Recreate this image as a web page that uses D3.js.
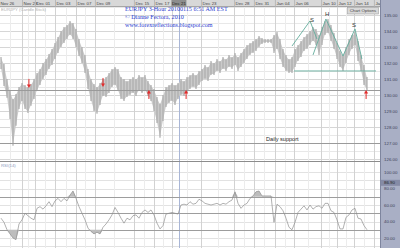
<!DOCTYPE html>
<html>
<head>
<meta charset="utf-8">
<script src="https://cdn.jsdelivr.net/npm/d3@7"></script>
<style>
  body { margin: 0; background: #fff; }
  svg { display: block; font-family: "Liberation Sans", Arial, sans-serif; }
</style>
</head>
<body>
<div id="chart"></div>
<script>
// EUR/JPY 3-hour (one entry per ~2 bars)
const highs = [132.34,131.91,130.97,130.22,129.72,130.03,130.47,130.72,130.59,130.47,
  130.66,130.97,131.34,131.59,131.97,132.22,132.53,132.84,133.22,133.59,
  133.97,134.22,134.34,134.59,134.47,134.09,133.47,132.97,132.47,131.59,
  130.97,130.66,130.47,130.72,130.97,131.09,131.34,131.59,131.72,131.59,
  131.09,130.97,130.84,130.97,131.09,130.97,131.22,131.09,131.22,130.84,
  130.59,130.34,129.84,129.41,129.97,130.47,130.59,130.72,130.59,130.72,
  130.97,130.84,131.09,131.22,131.34,131.22,131.47,131.59,131.84,131.72,
  132.09,131.97,132.22,132.09,132.34,132.22,132.47,132.34,132.59,132.34,
  132.59,132.84,133.09,133.22,133.34,133.47,133.66,133.53,133.47,133.47,
  133.47,133.72,133.91,133.47,132.84,132.47,132.22,132.34,132.84,133.09,
  133.34,133.59,133.78,133.97,134.22,134.09,133.72,134.22,134.59,134.72,
  134.34,133.84,133.22,132.72,132.47,132.97,133.47,133.72,133.91,133.34,
  132.47,131.84,131.09];
const lows = [131.72,130.66,129.91,128.59,126.91,128.16,129.22,129.72,129.22,128.97,
  129.41,129.84,130.34,130.72,131.09,131.34,131.72,131.97,132.34,132.72,
  133.09,133.34,133.59,133.84,133.59,133.09,132.53,132.09,131.47,130.47,
  129.72,129.09,128.91,129.47,130.03,129.97,130.22,130.59,130.72,130.34,
  129.84,129.72,129.97,130.09,130.22,130.03,130.34,130.22,130.34,130.03,
  129.72,129.09,128.34,127.41,128.47,129.34,129.59,129.72,129.47,129.84,
  130.09,130.03,130.22,130.47,130.59,130.47,130.72,130.97,131.09,130.97,
  131.34,131.34,131.59,131.47,131.72,131.59,131.84,131.72,131.97,131.59,
  131.84,132.09,132.34,132.59,132.72,132.84,133.09,133.28,133.34,133.34,
  133.34,132.72,132.97,132.34,131.84,131.59,131.47,131.47,131.84,132.22,
  132.47,132.84,132.97,133.22,133.47,133.22,132.59,133.22,133.84,133.97,
  133.47,132.97,132.34,131.84,131.59,132.09,132.59,132.97,133.22,132.22,
  131.59,130.72,130.34];
const rsi = [44,39,30,25,20,18,37,42,50,47,44,42,56,58,55,59,64,58,65,68,
  64,68,65,72,77,68,58,50,42,32,28,25,27,25,33,37,42,48,57,51,
  44,38,44,42,47,48,44,51,54,51,54,48,38,31,35,49,50,51,50,49,
  60,61,60,64,61,62,67,65,62,61,60,61,62,60,62,61,64,66,76,62,
  56,60,62,68,71,76,77,71,71,71,71,39,61,58,53,44,33,30,39,51,
  55,59,54,60,55,58,59,56,62,62,53,51,42,31,31,45,48,54,56,44,
  43,35,30];

const dateLabels = ["Nov 26","Nov 28","Dec 01","Dec 03","Dec 07","Dec 09","Dec 15","Dec 17",
  "Dec 21","Dec 23","Dec 28","Dec 31","Jan 04","Jan 06","Jan 10","Jan 12","Jan 14","Jan 18"];
const dateIdx = [-0.7,7,11.3,18,25,31.3,44.3,51,57,66.7,77.7,84.3,91.3,97.7,106.7,112,117.7,124.3];
const priceTicks = [126,127,128,129,130,131,132,133,134,135];
const rsiTicks = [20,40,60,80,100];
const rsiLevels = [30,50,70];

// drawn annotations
const supportLines = [130.34, 127.0];
const neckline = { from: 97.7, to: 125, price: 131.53 };
const hsLegs = [
  [[97, 133.09], [103, 134.66], [105.3, 133.53]],
  [[104, 132.53], [108.3, 134.78], [114, 132.47], [118, 134.16], [120.3, 132.28]]
];
const hsLabels = [["S", 103.7, 134.6], ["H", 108.7, 134.95], ["S", 117.7, 134.25]];
const arrows = [[9.3, 130.47, "down"], [34, 130.53, "down"], [49.3, 130.34, "up"],
  [61.7, 130.34, "up"], [121.7, 130.34, "up"]];
const cursorLabel = "Dec 21", cursorIdx = 59.3, cursorRsi = 86.9;

const W = 400, H = 248, plotRight = 380;

const svg = d3.select("#chart").append("svg")
  .attr("width", W).attr("height", H);

const x = d3.scaleLinear().domain([0, 126]).range([1, 379]);
const yP = d3.scaleLinear().domain([125.9, 135.53]).range([161, 7]);
const yR = d3.scaleLinear().domain([20, 100]).range([238, 172]);

svg.append("defs").append("clipPath").attr("id", "pclip")
  .append("rect").attr("x", 0).attr("y", 7).attr("width", plotRight).attr("height", 154);
svg.select("defs").append("clipPath").attr("id", "rclip")
  .append("rect").attr("x", 0).attr("y", 162).attr("width", plotRight).attr("height", 86);

// ---- grid ----
const grid = svg.append("g");
const halfSteps = d3.range(126, 135.6, 0.5);
grid.selectAll(".hp").data(halfSteps).join("line")
  .attr("x1", 0).attr("x2", plotRight)
  .attr("y1", d => Math.round(yP(d)) + 0.5).attr("y2", d => Math.round(yP(d)) + 0.5)
  .attr("stroke", d => d % 1 === 0 ? "#d6d6d6" : "#e8e8e8");
grid.selectAll(".hr").data(d3.range(10, 101, 10)).join("line")
  .attr("x1", 0).attr("x2", plotRight)
  .attr("y1", d => Math.round(yR(d)) + 0.5).attr("y2", d => Math.round(yR(d)) + 0.5)
  .attr("stroke", "#e2e2e2");

const minor = dateIdx.slice(1).map((d, i) => (d + dateIdx[i]) / 2);
grid.selectAll(".vm").data(minor).join("line")
  .attr("x1", d => Math.round(x(d)) + 0.5).attr("x2", d => Math.round(x(d)) + 0.5)
  .attr("y1", 7).attr("y2", H).attr("stroke", "#ececec");
grid.selectAll(".vj").data(dateIdx).join("line")
  .attr("x1", d => Math.round(x(d)) + 0.5).attr("x2", d => Math.round(x(d)) + 0.5)
  .attr("y1", 7).attr("y2", H).attr("stroke", "#d2d2d2");

// crosshair
svg.append("line")
  .attr("x1", Math.round(x(cursorIdx)) + 0.5).attr("x2", Math.round(x(cursorIdx)) + 0.5)
  .attr("y1", 7).attr("y2", H).attr("stroke", "#a9b6d6");

// ---- price panel ----
const price = svg.append("g").attr("clip-path", "url(#pclip)");

// candle range band + wicks
price.append("path").datum(highs)
  .attr("d", d3.area().x((d, i) => x(i)).y0((d, i) => yP(lows[i])).y1(d => yP(d)))
  .attr("fill", "#cacaca");
price.selectAll(".wick").data(highs).join("line")
  .attr("x1", (d, i) => x(i)).attr("x2", (d, i) => x(i))
  .attr("y1", d => yP(d) - 1).attr("y2", (d, i) => yP(lows[i]) + 1)
  .attr("stroke", "#acacac").attr("stroke-width", 1.2);

price.selectAll(".sup").data(supportLines).join("line")
  .attr("x1", 0).attr("x2", plotRight)
  .attr("y1", d => Math.round(yP(d)) + 0.5).attr("y2", d => Math.round(yP(d)) + 0.5)
  .attr("stroke", "#9a9a9a");

price.append("text")
  .attr("x", 266).attr("y", yP(127.0) - 2.5)
  .attr("font-size", 5.6).attr("fill", "#2a2a2a")
  .text("Daily support");

// head & shoulders
const hsLine = d3.line().x(d => x(d[0])).y(d => yP(d[1]));
price.selectAll(".hs").data(hsLegs).join("path")
  .attr("d", hsLine).attr("fill", "none")
  .attr("stroke", "#63ad9c").attr("stroke-width", 0.9);
price.append("line")
  .attr("x1", x(neckline.from)).attr("x2", x(neckline.to))
  .attr("y1", yP(neckline.price)).attr("y2", yP(neckline.price))
  .attr("stroke", "#63ad9c").attr("stroke-width", 0.9);
price.selectAll(".hsl").data(hsLabels).join("text")
  .attr("x", d => x(d[1])).attr("y", d => yP(d[2]))
  .attr("text-anchor", "middle").attr("font-size", 6)
  .attr("fill", "#333").text(d => d[0]);

// arrows
const arrowG = price.selectAll(".arr").data(arrows).join("g")
  .attr("transform", d => `translate(${x(d[0])},${yP(d[1])})${d[2] === "up" ? "" : " scale(1,-1)"}`);
arrowG.append("line").attr("x1", 0).attr("x2", 0).attr("y1", 2.5).attr("y2", 9)
  .attr("stroke", "#e22a2a").attr("stroke-width", 1);
arrowG.append("path").attr("d", "M0,0L-2,3.5L2,3.5Z").attr("fill", "#e22a2a");

svg.append("text").attr("x", 1).attr("y", 11)
  .attr("font-size", 4.3).attr("fill", "#b0b0b0").text("EURJPY (Candle Stick)");

const title = svg.append("g").attr("font-family", "'Liberation Serif', 'Times New Roman', serif")
  .attr("font-size", 6.1).attr("fill", "#2b3bd0");
title.append("text").attr("x", 125).attr("y", 11).text("EURJPY 3-Hour 20100115 6:51 AM EST");
title.append("text").attr("x", 125).attr("y", 19).text("\u00a9 Dianne Fectora, 2010");
title.append("text").attr("x", 125).attr("y", 26.5).text("www.forexreflections.blogspot.com");

// chart options button
svg.append("rect").attr("x", 347.5).attr("y", 7.5).attr("width", 31).attr("height", 6.5)
  .attr("fill", "#d9d9d9").attr("stroke", "#a0a0a0").attr("stroke-width", 0.6);
svg.append("text").attr("x", 363).attr("y", 12.3).attr("text-anchor", "middle")
  .attr("font-size", 4.3).attr("fill", "#444").text("Chart Options");

// panel separator
svg.append("line").attr("x1", 0).attr("x2", plotRight).attr("y1", 161.5).attr("y2", 161.5)
  .attr("stroke", "#8c8c8c");

// ---- RSI panel ----
const rp = svg.append("g").attr("clip-path", "url(#rclip)");
rp.selectAll(".lvl").data(rsiLevels).join("line")
  .attr("x1", 0).attr("x2", plotRight)
  .attr("y1", d => Math.round(yR(d)) + 0.5).attr("y2", d => Math.round(yR(d)) + 0.5)
  .attr("stroke", "#9d9d9d");

rp.append("path").datum(rsi)
  .attr("d", d3.area().x((d, i) => x(i)).y0(yR(30)).y1(d => yR(Math.min(d, 30))))
  .attr("fill", "#bdbdbd");
rp.append("path").datum(rsi)
  .attr("d", d3.area().x((d, i) => x(i)).y0(yR(70)).y1(d => yR(Math.max(d, 70))))
  .attr("fill", "#bdbdbd");
rp.append("path").datum(rsi)
  .attr("d", d3.line().x((d, i) => x(i)).y(d => yR(d)))
  .attr("fill", "none").attr("stroke", "#8f8f8f").attr("stroke-width", 0.7);

svg.append("text").attr("x", 1).attr("y", 166.5)
  .attr("font-size", 4.3).attr("fill", "#8d9dc0").text("RSI(14)");

// ---- top date axis ----
svg.append("rect").attr("x", 0).attr("y", 0).attr("width", W).attr("height", 6.5).attr("fill", "#d8d8d8");
svg.append("line").attr("x1", 0).attr("x2", W).attr("y1", 6.5).attr("y2", 6.5).attr("stroke", "#a6a6a6");
const topAxis = svg.append("g").attr("transform", "translate(0,6.5)")
  .call(d3.axisTop(x).tickValues(dateIdx).tickSize(0)
    .tickFormat((d, i) => dateLabels[i] === cursorLabel ? "" : dateLabels[i]));
topAxis.select(".domain").remove();
topAxis.selectAll("text")
  .attr("text-anchor", "start").attr("x", 1).attr("y", -1.6).attr("dy", 0)
  .attr("font-size", 4.4).attr("fill", "#444").attr("font-family", null);
topAxis.selectAll(".tick").append("line").attr("y1", 0).attr("y2", -6.5).attr("stroke", "#b8b8b8");

// cursor date
svg.append("rect").attr("x", x(cursorIdx) - 7.5).attr("y", 0).attr("width", 15).attr("height", 6.5)
  .attr("fill", "#8d8d8d");
svg.append("text").attr("x", x(cursorIdx)).attr("y", 4.9).attr("text-anchor", "middle")
  .attr("font-size", 4.4).attr("fill", "#222").text(cursorLabel);

// ---- right value axis ----
svg.append("rect").attr("x", plotRight).attr("y", 0).attr("width", W - plotRight).attr("height", H)
  .attr("fill", "#a9afc5");
svg.append("line").attr("x1", plotRight + 0.5).attr("x2", plotRight + 0.5).attr("y1", 0).attr("y2", H)
  .attr("stroke", "#7e859e");

const pAxis = svg.append("g").attr("transform", `translate(${plotRight},0)`)
  .call(d3.axisRight(yP).tickValues(priceTicks).tickSize(0).tickPadding(4).tickFormat(d3.format(".2f")));
const rAxis = svg.append("g").attr("transform", `translate(${plotRight},0)`)
  .call(d3.axisRight(yR).tickValues(rsiTicks).tickSize(0).tickPadding(4).tickFormat(d3.format(".2f")));
[pAxis, rAxis].forEach(a => {
  a.select(".domain").remove();
  a.selectAll("text").attr("font-size", 4.4).attr("fill", "#3f4458").attr("font-family", null);
});

svg.append("rect").attr("x", plotRight + 1).attr("y", yR(cursorRsi) - 3).attr("width", W - plotRight - 1).attr("height", 6)
  .attr("fill", "#858ba6");
svg.append("text").attr("x", plotRight + 4).attr("y", yR(cursorRsi) + 1.6)
  .attr("font-size", 4.4).attr("fill", "#222").text(d3.format(".2f")(cursorRsi));
</script>
</body>
</html>
